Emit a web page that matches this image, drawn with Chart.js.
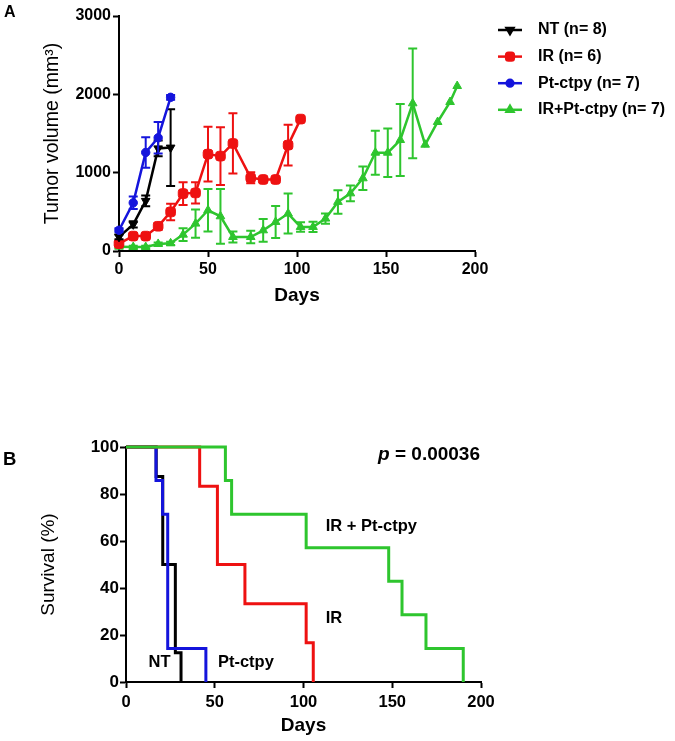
<!DOCTYPE html>
<html><head><meta charset="utf-8">
<script src="https://cdn.jsdelivr.net/npm/chart.js@4/dist/chart.umd.min.js"></script>
<style>
html,body{margin:0;padding:0;background:#fff;}
#wrap{position:relative;width:675px;height:741px;overflow:hidden;}
canvas{position:absolute;left:0;}
#ca{top:0;} #cb{top:340px;}
</style></head><body>
<div id="wrap"><canvas id="ca" width="675" height="330"></canvas><canvas id="cb" width="675" height="401"></canvas></div>
<script>
// ---------- Panel A: tumor volume (mean ± SEM) ----------
const daysNT = [0, 8, 15, 22, 29];
const volNT  = [180, 340, 640, 1310, 1320];
const semNT  = [30, 40, 70, 100, 490];

const daysIR = [0, 8, 15, 22, 29, 36, 43, 50, 57, 64, 74, 81, 88, 95, 102];
const volIR  = [94, 190, 190, 316, 499, 733, 742, 1237, 1211, 1373, 934, 913, 913, 1352, 1684];
const semIR  = [20, 20, 20, 40, 105, 145, 135, 350, 370, 385, 70, 25, 25, 260, 0];

const daysPt = [0, 8, 15, 22, 29];
const volPt  = [265, 615, 1258, 1446, 1962];
const semPt  = [25, 80, 195, 200, 30];

const daysCombo = [0, 8, 15, 22, 29, 36, 43, 50, 57, 64, 74, 81, 88, 95, 102, 109, 116, 123, 130, 137, 144, 151, 158, 165, 172, 179, 186, 190];
const volCombo  = [55, 51, 51, 90, 98, 209, 350, 520, 443, 179, 179, 264, 371, 478, 307, 307, 414, 627, 736, 928, 1255, 1255, 1417, 1885, 1357, 1647, 1902, 2106];
const semCombo  = [15, 15, 15, 20, 20, 80, 180, 270, 350, 70, 80, 145, 205, 255, 60, 65, 65, 150, 100, 150, 280, 310, 460, 700, 0, 0, 0, 0];

const labelsA = ['NT (n= 8)', 'IR (n= 6)', 'Pt-ctpy (n= 7)', 'IR+Pt-ctpy (n= 7)'];
const yTicksA = [0, 1000, 2000, 3000];
const xTicks  = [0, 50, 100, 150, 200];

// ---------- Panel B: Kaplan–Meier survival ----------
const survDaysNT = [0, 17, 20.7, 27.8, 31];
const survNT     = [100, 87.5, 50, 12.5, 0];
const survDaysIR = [0, 41.5, 51.5, 67, 101.5, 105.5];
const survIR     = [100, 83.3, 50, 33.3, 16.7, 0];
const survDaysPt = [0, 16.9, 20.6, 23.5, 45];
const survPt     = [100, 85.7, 71.4, 14.3, 0];
const survDaysCombo = [0, 56, 59.5, 101.5, 148, 155.5, 169, 190];
const survCombo     = [100, 85.7, 71.4, 57.1, 42.9, 28.6, 14.3, 0];
const yTicksB = [0, 20, 40, 60, 80, 100];

const COLORS = {NT: '#000000', IR: '#ee1111', Pt: '#1414dc', Combo: '#2ec52e'};
const FONT = "'Liberation Sans', Arial, Helvetica, sans-serif";

const pts = (xs, ys) => xs.map((x, i) => ({x: x, y: ys[i]}));

// error bars plugin (drawn before each dataset's line and symbols)
const errorBars = {
  id: 'errorBars',
  beforeDatasetDraw(chart, args) {
    const ds = chart.data.datasets[args.index];
    if (!ds.errors) return;
    const {ctx, scales: {x, y}} = chart;
    ctx.save();
    ctx.strokeStyle = ds.borderColor;
    ctx.lineWidth = 2;
    ds.data.forEach((p, j) => {
      const e = ds.errors[j];
      if (!e) return;
      const px = x.getPixelForValue(p.x);
      const t = y.getPixelForValue(p.y + e);
      const b = y.getPixelForValue(Math.max(0, p.y - e));
      ctx.beginPath();
      ctx.moveTo(px, t); ctx.lineTo(px, b);
      ctx.moveTo(px - 4.5, t); ctx.lineTo(px + 4.5, t);
      ctx.moveTo(px - 4.5, b); ctx.lineTo(px + 4.5, b);
      ctx.stroke();
    });
    ctx.restore();
  }
};

// legend for panel A drawn from datasets
const legendA = {
  id: 'legendA',
  afterDraw(chart) {
    const ctx = chart.ctx;
    const order = [0, 1, 2, 3];
    ctx.save();
    order.forEach((k, i) => {
      const ds = chart.data.datasets.find(d => d.key === k);
      const y = 30 + i * 26.6;
      ctx.strokeStyle = ds.borderColor;
      ctx.fillStyle = ds.borderColor;
      ctx.lineWidth = 2.5;
      ctx.beginPath(); ctx.moveTo(498, y); ctx.lineTo(522, y); ctx.stroke();
      Chart.helpers.drawPoint(ctx, {pointStyle: ds.pointStyle, rotation: ds.pointRotation || 0,
        radius: ds.pointRadius * 0.8, borderWidth: 1}, 510, y);
      ctx.fillStyle = '#000';
      ctx.font = 'bold 16px ' + FONT;
      ctx.textBaseline = 'middle';
      ctx.textAlign = 'left';
      ctx.fillText(ds.label, 538, y);
    });
    ctx.font = 'bold 16px ' + FONT;
    ctx.fillStyle = '#000';
    ctx.textBaseline = 'middle';
    ctx.fillText('A', 4, 13);
    ctx.restore();
  }
};

function axisCommon(min, max, step, tickSize, pad) {
  return {
    type: 'linear', min: min, max: max,
    ticks: {stepSize: step, color: '#000', padding: pad, font: {family: FONT, size: tickSize, weight: 'bold'},
            maxRotation: 0, autoSkip: false, callback: v => String(v)},
    grid: {drawOnChartArea: false, drawTicks: true, tickLength: 6, tickWidth: 2, tickColor: '#000'},
    border: {display: true, color: '#000', width: 2}
  };
}

const xA = axisCommon(0, 200, 50, 16, 3);
xA.title = {display: true, text: 'Days', color: '#000', font: {family: FONT, size: 19, weight: 'bold'}, padding: {top: 0, bottom: 23}};
xA.afterFit = s => { s.height = 79; };
const yA = axisCommon(0, 3000, 1000, 16, 2);
yA.title = {display: true, text: 'Tumor volume (mm\u00B3)', color: '#000', font: {family: FONT, size: 19.5, weight: 'normal'}, padding: {top: 41, bottom: 0}};
yA.afterFit = s => { s.width = 119; };

new Chart(document.getElementById('ca'), {
  type: 'line',
  data: {
    datasets: [
      {key: 2, label: labelsA[2], data: pts(daysPt, volPt), errors: semPt, borderColor: COLORS.Pt, backgroundColor: COLORS.Pt,
       pointStyle: 'circle', pointRadius: 4.2, borderWidth: 2.5, pointBorderWidth: 1, order: 0},
      {key: 0, label: labelsA[0], data: pts(daysNT, volNT), errors: semNT, borderColor: COLORS.NT, backgroundColor: COLORS.NT,
       pointStyle: 'triangle', pointRotation: 180, pointRadius: 5, borderWidth: 2.5, pointBorderWidth: 1, order: 1},
      {key: 1, label: labelsA[1], data: pts(daysIR, volIR), errors: semIR, borderColor: COLORS.IR, backgroundColor: COLORS.IR,
       pointStyle: 'rectRounded', pointRadius: 5.6, borderWidth: 2.5, pointBorderWidth: 1, order: 2},
      {key: 3, label: labelsA[3], data: pts(daysCombo, volCombo), errors: semCombo, borderColor: COLORS.Combo, backgroundColor: COLORS.Combo,
       pointStyle: 'triangle', pointRadius: 5, borderWidth: 2.5, pointBorderWidth: 1, order: 3}
    ]
  },
  options: {
    responsive: false, animation: false, devicePixelRatio: 1, events: [],
    layout: {padding: {left: 0, right: 200, top: 16, bottom: 0}},
    elements: {line: {tension: 0}},
    datasets: {line: {clip: false}},
    plugins: {legend: {display: false}, tooltip: {enabled: false}},
    scales: {x: xA, y: yA}
  },
  plugins: [errorBars, legendA]
});

// ---------- Panel B ----------
const notesB = [
  {text: 'IR + Pt-ctpy', x: 112.5, y: 66},
  {text: 'IR', x: 112.5, y: 27.2},
  {text: 'NT', x: 12.7, y: 8.5},
  {text: 'Pt-ctpy', x: 51.8, y: 8.5}
];
const annotB = {
  id: 'annotB',
  afterDraw(chart) {
    const {ctx, scales: {x, y}} = chart;
    ctx.save();
    ctx.fillStyle = '#000';
    ctx.textBaseline = 'middle';
    ctx.textAlign = 'left';
    ctx.font = 'bold 16.5px ' + FONT;
    notesB.forEach(n => ctx.fillText(n.text, x.getPixelForValue(n.x), y.getPixelForValue(n.y)));
    // p value
    const px = x.getPixelForValue(142), py = y.getPixelForValue(96.6);
    ctx.font = 'italic bold 19px ' + FONT;
    ctx.fillText('p', px, py);
    const w = ctx.measureText('p').width;
    ctx.font = 'bold 19px ' + FONT;
    ctx.fillText(' = 0.00036', px + w, py);
    // panel letter
    ctx.font = 'bold 18.5px ' + FONT;
    ctx.fillText('B', 3, 120);
    ctx.restore();
  }
};

const xB = axisCommon(0, 200, 50, 16.5, 5);
xB.title = {display: true, text: 'Days', color: '#000', font: {family: FONT, size: 19, weight: 'bold'}, padding: {top: 0, bottom: 4}};
xB.afterFit = s => { s.height = 59; };
const yB = axisCommon(0, 100, 20, 17, 1);
yB.title = {display: true, text: 'Survival (%)', color: '#000', font: {family: FONT, size: 19, weight: 'normal'}, padding: {top: 37, bottom: 0}};
yB.afterFit = s => { s.width = 126; };

const stepDs = (label, xs, ys, color, order) => ({
  label: label, data: pts(xs, ys), borderColor: color, backgroundColor: color,
  stepped: 'before', pointRadius: 0, borderWidth: 3, order: order
});

new Chart(document.getElementById('cb'), {
  type: 'line',
  data: {
    datasets: [
      stepDs('IR + Pt-ctpy', survDaysCombo, survCombo, COLORS.Combo, 0),
      stepDs('IR', survDaysIR, survIR, COLORS.IR, 1),
      stepDs('Pt-ctpy', survDaysPt, survPt, COLORS.Pt, 2),
      stepDs('NT', survDaysNT, survNT, COLORS.NT, 3)
    ]
  },
  options: {
    responsive: false, animation: false, devicePixelRatio: 1, events: [],
    layout: {padding: {left: 0, right: 194, top: 107, bottom: 0}},
    datasets: {line: {clip: false}},
    plugins: {legend: {display: false}, tooltip: {enabled: false}},
    scales: {x: xB, y: yB}
  },
  plugins: [annotB]
});
</script>
</body></html>
